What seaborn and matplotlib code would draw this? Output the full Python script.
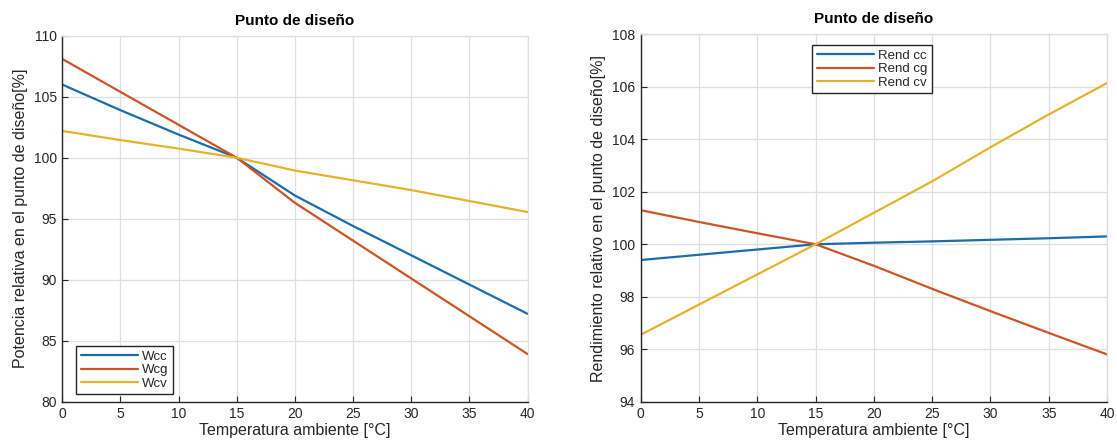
import numpy as np
import pandas as pd
import matplotlib
matplotlib.use("Agg")
import matplotlib.pyplot as plt
import seaborn as sns

# Ambient temperature [°C]
temperatura = [0, 5, 10, 15, 20, 25, 30, 35, 40]

# Relative power at design point [%]
w_cc = [106.0, 103.9, 101.9, 100.0, 96.9, 94.4, 92.0, 89.6, 87.2]
w_cg = [108.1, 105.4, 102.7, 100.0, 96.3, 93.2, 90.1, 87.0, 83.9]
w_cv = [102.2, 101.45, 100.75, 100.0, 98.95, 98.15, 97.35, 96.45, 95.55]

# Relative efficiency at design point [%]
rend_cc = [99.4, 99.6, 99.8, 100.0, 100.06, 100.11, 100.17, 100.23, 100.3]
rend_cg = [101.3, 100.85, 100.42, 100.0, 99.18, 98.3, 97.45, 96.62, 95.8]
rend_cv = [96.55, 97.7, 98.85, 100.0, 101.2, 102.4, 103.7, 104.95, 106.15]

left_names = ["Wcc", "Wcg", "Wcv"]
right_names = ["Rend cc", "Rend cg", "Rend cv"]

titulo = "Punto de diseño"
xlabel = "Temperatura ambiente [°C]"
ylabel_left = "Potencia relativa en el punto de diseño[%]"
ylabel_right = "Rendimiento relativo en el punto de diseño[%]"

palette = ["#1A6DAA", "#CC5426", "#E6B22E"]
dark = "#262626"
gridc = "#DFDFDF"

sns.set_theme(style="whitegrid")
plt.rcParams["font.family"] = ["Liberation Sans", "DejaVu Sans"]


def long_frame(names, series):
    rows = []
    for name, vals in zip(names, series):
        for t, v in zip(temperatura, vals):
            rows.append({"T": t, "val": v, "serie": name})
    return pd.DataFrame(rows)


df_left = long_frame(left_names, [w_cc, w_cg, w_cv])
df_right = long_frame(right_names, [rend_cc, rend_cg, rend_cv])

fig = plt.figure(figsize=(11.17, 4.45), dpi=100)
ax1 = fig.add_axes([0.0558, 0.0975, 0.4165, 0.822])
ax2 = fig.add_axes([0.5736, 0.0975, 0.4175, 0.825])


def style_axes(ax, ylim, yticks, ylabel):
    ax.set_xlim(0, 40)
    ax.set_ylim(*ylim)
    ax.set_xticks(np.arange(0, 41, 5))
    ax.set_yticks(yticks)
    ax.grid(True, color=gridc, linewidth=0.9)
    ax.set_facecolor("white")
    for side in ["left", "bottom"]:
        ax.spines[side].set_color(dark)
        ax.spines[side].set_linewidth(1.0)
    for side in ["top", "right"]:
        ax.spines[side].set_color(gridc)
        ax.spines[side].set_linewidth(0.9)
    ax.tick_params(axis="both", direction="in", length=4, width=0.8,
                   colors=dark, labelsize=10, pad=4,
                   bottom=True, left=True, top=False, right=False)
    ax.set_title(titulo, fontsize=11, fontweight="bold", color="black", pad=8)
    ax.set_xlabel(xlabel, fontsize=11.5, color=dark, labelpad=1)
    ax.set_ylabel(ylabel, fontsize=11.5, color=dark, labelpad=4)


sns.lineplot(data=df_left, x="T", y="val", hue="serie", palette=palette,
             linewidth=1.6, ax=ax1)
sns.lineplot(data=df_right, x="T", y="val", hue="serie", palette=palette,
             linewidth=1.6, ax=ax2)

style_axes(ax1, (80, 110), np.arange(80, 111, 5), ylabel_left)
style_axes(ax2, (94, 108), np.arange(94, 109, 2), ylabel_right)

leg1 = ax1.legend(loc="lower left", bbox_to_anchor=(0.03, 0.02), fontsize=9.5,
                  frameon=True, fancybox=False, edgecolor=dark,
                  handlelength=4.3, handletextpad=0.3, borderpad=0.35,
                  labelspacing=0.1, borderaxespad=0)
leg2 = ax2.legend(loc="upper center", bbox_to_anchor=(0.496, 0.972), fontsize=9.5,
                  frameon=True, fancybox=False, edgecolor=dark,
                  handlelength=4.3, handletextpad=0.3, borderpad=0.35,
                  labelspacing=0.1, borderaxespad=0)
for leg in (leg1, leg2):
    leg.get_frame().set_linewidth(1.0)
    leg.get_frame().set_alpha(1)
    for t in leg.get_texts():
        t.set_color(dark)

fig.savefig("out.png", dpi=100, facecolor="white")
